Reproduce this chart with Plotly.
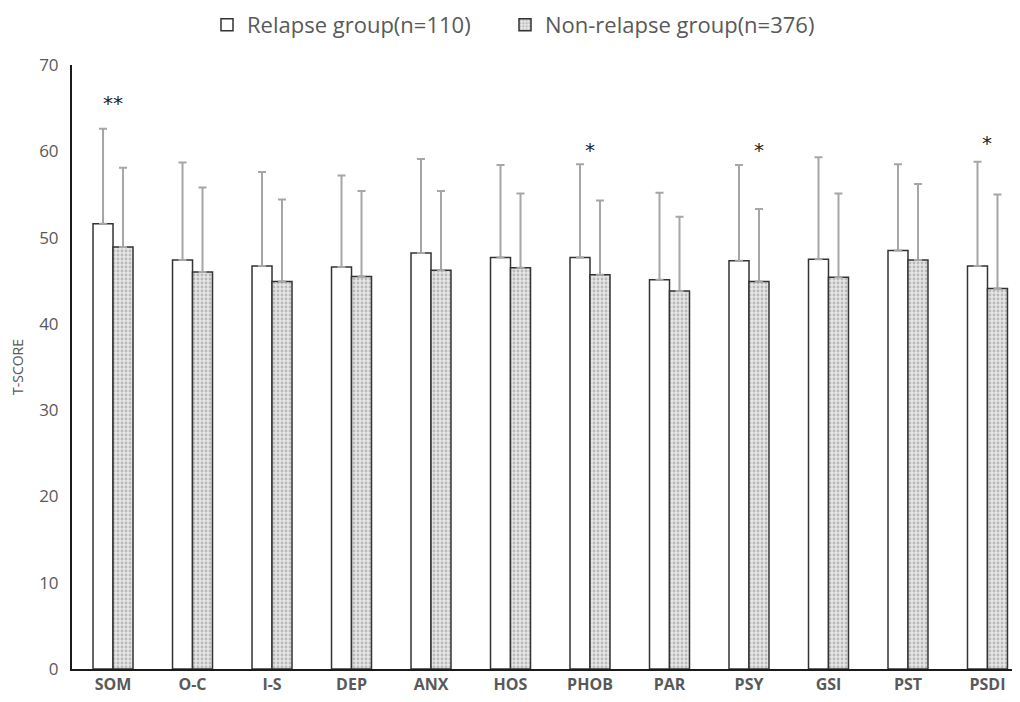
import plotly.graph_objects as go

categories = ["SOM", "O-C", "I-S", "DEP", "ANX", "HOS", "PHOB", "PAR", "PSY", "GSI", "PST", "PSDI"]
relapse_mean = [51.6, 47.4, 46.7, 46.6, 48.2, 47.7, 47.7, 45.1, 47.3, 47.5, 48.5, 46.7]
relapse_sd = [11.0, 11.3, 10.9, 10.6, 10.9, 10.7, 10.8, 10.1, 11.1, 11.8, 10.0, 12.1]
nonrelapse_mean = [48.9, 46.0, 44.9, 45.5, 46.2, 46.5, 45.7, 43.8, 44.9, 45.4, 47.4, 44.1]
nonrelapse_sd = [9.2, 9.8, 9.5, 9.9, 9.2, 8.6, 8.6, 8.6, 8.4, 9.7, 8.8, 10.9]

sig_labels = ["**", "*", "*", "*"]
sig_x = [0.0, 6.0, 8.12, 11.0]
sig_y = [65.6, 60.2, 60.2, 61.0]

fig = go.Figure()
fig.add_trace(go.Bar(
    name="Relapse group(n=110)", x=categories, y=relapse_mean, legend="legend",
    marker=dict(color="white", line=dict(color="#333333", width=1.5)),
    error_y=dict(type="data", symmetric=False, array=relapse_sd,
                 arrayminus=[0] * len(relapse_sd), color="#a6a6a6", thickness=2, width=4),
))
fig.add_trace(go.Bar(
    name="Non-relapse group(n=376)", x=categories, y=nonrelapse_mean, legend="legend2",
    marker=dict(color="#d9d9d9", line=dict(color="#333333", width=1.5),
                pattern=dict(shape=".", fgcolor="#8c8c8c", bgcolor="#e6e6e6", size=4, solidity=0.4)),
    error_y=dict(type="data", symmetric=False, array=nonrelapse_sd,
                 arrayminus=[0] * len(nonrelapse_sd), color="#a6a6a6", thickness=2, width=4),
))

for lab, xv, yv in zip(sig_labels, sig_x, sig_y):
    fig.add_annotation(x=xv, y=yv, xref="x", yref="y", text=lab, showarrow=False,
                       font=dict(size=20, color="#222222", family="DejaVu Sans"))

legend_common = dict(orientation="h", xanchor="left", xref="container",
                     y=0.9755, yanchor="middle", yref="container",
                     font=dict(size=22, color="#595959"), itemwidth=30)

fig.update_layout(
    width=1012, height=694,
    margin=dict(l=64, r=0, t=57, b=33, autoexpand=False),
    plot_bgcolor="white", paper_bgcolor="white",
    barmode="group", bargap=0.497, bargroupgap=0,
    font=dict(family="Open Sans", color="#595959"),
    legend=dict(x=199 / 1012, **legend_common),
    legend2=dict(x=497 / 1012, **legend_common),
    showlegend=True,
)
fig.update_xaxes(range=[-0.516, 11.409], showline=True, linecolor="#1a1a1a", linewidth=2,
                 ticks="", tickfont=dict(size=16, color="#595959", family="Open Sans", weight="bold"),
                 showgrid=False, automargin=False)
fig.update_yaxes(range=[0, 70], dtick=10, showline=True, linecolor="#1a1a1a", linewidth=2,
                 ticks="", ticklabelstandoff=8, showgrid=False, zeroline=False, automargin=False,
                 tickfont=dict(size=17, color="#595959"),
                 title=dict(text="T-SCORE", font=dict(size=14, color="#595959"), standoff=14))

fig.write_html("out.html")
